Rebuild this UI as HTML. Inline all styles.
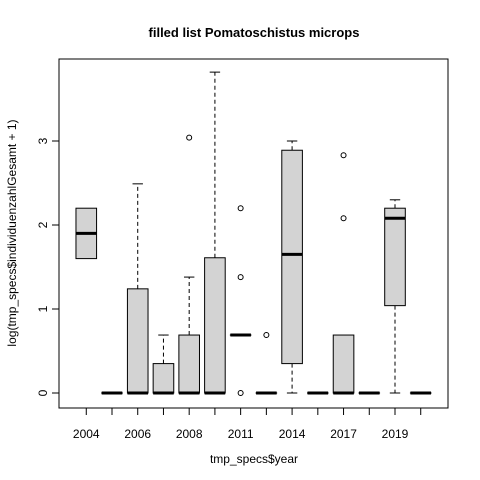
<!DOCTYPE html>
<html><head><meta charset="utf-8"><style>
body{margin:0;background:#fff}
svg{display:block;font-family:"Liberation Sans",Arial,sans-serif}
</style></head><body>
<svg id="chart" width="480" height="480" viewBox="0 0 480 480">
<rect width="480" height="480" fill="#fff"/>
<text x="254" y="37" text-anchor="middle" font-weight="bold" font-size="13">filled list Pomatoschistus microps</text>
<text x="254" y="463" text-anchor="middle" font-size="12">tmp_specs$year</text>
<text transform="translate(16,233) rotate(-90)" text-anchor="middle" font-size="12">log(tmp_specs$individuenzahlGesamt + 1)</text>
<g id="plot"></g>
<rect x="59" y="59" width="389" height="349" fill="none" stroke="#000"/>
</svg>
<script>
const categories=["2004","2005","2006","2007","2008","2010","2011","2012","2014","2016","2017","2018","2019","2020"];
const tickLabels=["2004","","2006","","2008","","2011","","2014","","2017","","2019",""];
const mins=[1.6,0,0,0,0,0,0.69,0,0,0,0,0,0,0];
const q1s=[1.6,0,0,0,0,0,0.69,0,0.35,0,0,0,1.04,0];
const medians=[1.9,0,0,0,0,0,0.69,0,1.65,0,0,0,2.08,0];
const q3s=[2.2,0,1.24,0.35,0.69,1.61,0.69,0,2.89,0,0.69,0,2.2,0];
const maxs=[2.2,0,2.49,0.69,1.38,3.82,0.69,0,3.0,0,0.69,0,2.3,0];
const outliers=[[],[],[],[],[3.04],[],[0,1.38,2.2],[0.69],[],[],[2.08,2.83],[],[],[]];
const yTicks=[0,1,2,3];
const NS="http://www.w3.org/2000/svg";
const g=document.getElementById('plot');
const n=categories.length;
const L=59,R=448,T=59,B=408;
const xlo=0.5-0.04*n,xhi=n+0.5+0.04*n;
const X=i=>L+(i+1-xlo)/(xhi-xlo)*(R-L);
const Y=v=>393-v*84;
function mk(tag,attrs){const e=document.createElementNS(NS,tag);for(const k in attrs)e.setAttribute(k,attrs[k]);g.appendChild(e);return e;}
yTicks.forEach(t=>{
 const l=mk('line',{x1:L,x2:L-7,y1:Y(t),y2:Y(t),stroke:'#000'});
 
 
 const tx=mk('text',{transform:`translate(${L-12},${Y(t)}) rotate(-90)`,'text-anchor':'middle','font-size':'12'});
 tx.textContent=t;
 
 
});
mk('line',{x1:L,x2:L,y1:Y(0),y2:Y(3),stroke:'#000'});
mk('line',{x1:X(0),x2:X(n-1),y1:B,y2:B,stroke:'#000'});
const hw=10.3,cw=5.2;
for(let i=0;i<n;i++){
 const x=X(i);
 const t=mk('line',{x1:x,x2:x,y1:B,y2:B+7,stroke:'#000'});
 
 
 if(tickLabels[i]){const tx=mk('text',{x:x,y:438,'text-anchor':'middle','font-size':'12'});tx.textContent=tickLabels[i];
  
  }
 if(maxs[i]>q3s[i]){
  mk('line',{x1:x,x2:x,y1:Y(q3s[i]),y2:Y(maxs[i]),stroke:'#000','stroke-dasharray':'4,3'});
  mk('line',{x1:x-cw,x2:x+cw,y1:Y(maxs[i]),y2:Y(maxs[i]),stroke:'#000'});
 }
 if(mins[i]<q1s[i]){
  mk('line',{x1:x,x2:x,y1:Y(q1s[i]),y2:Y(mins[i]),stroke:'#000','stroke-dasharray':'4,3'});
  mk('line',{x1:x-cw,x2:x+cw,y1:Y(mins[i]),y2:Y(mins[i]),stroke:'#000'});
 }
 const b=mk('rect',{x:x-hw,y:Y(q3s[i]),width:2*hw,height:Math.max(Y(q1s[i])-Y(q3s[i]),0.01),fill:'#d3d3d3',stroke:'#000'});
 
 
 const m=mk('line',{x1:x-hw,x2:x+hw,y1:Y(medians[i]),y2:Y(medians[i]),stroke:'#000','stroke-width':3});
 
 
 outliers[i].forEach(v=>{const c=mk('circle',{cx:x,cy:Y(v),r:2.5,fill:'none',stroke:'#000'});
  
  });
}
</script>
</body></html>
